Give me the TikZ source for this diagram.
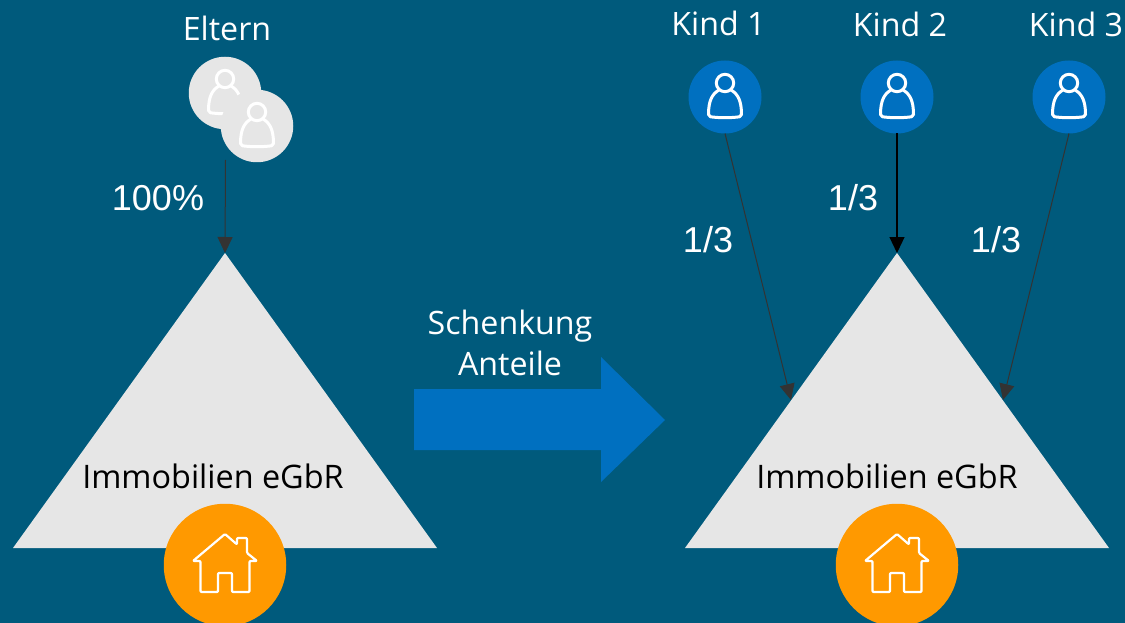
\documentclass[tikz,border=0pt]{standalone}
\usepackage{fontspec}
\setmainfont{Open Sans}
\newfontfamily\arialf{Liberation Sans}
\usetikzlibrary{shapes.geometric,arrows.meta}
\definecolor{bgblue}{HTML}{005A7C}
\definecolor{kindblue}{HTML}{0070C0}
\definecolor{houseorange}{HTML}{FF9900}
\definecolor{lightgrey}{HTML}{E6E6E6}
\definecolor{darkline}{HTML}{333333}
\tikzset{
  x=1pt,y=-1pt,
  tri/.style={shape=isosceles triangle,shape border rotate=90,isosceles triangle stretches,
    minimum width=424pt,minimum height=295pt,inner sep=0pt,outer sep=0pt,fill=lightgrey,anchor=apex},
  disc/.style={circle,inner sep=0pt,outer sep=0pt,minimum size=#1},
  greydisc/.style={disc=72.5pt,fill=lightgrey},
  kinddisc/.style={disc=73pt,fill=kindblue},
  housedisc/.style={disc=122.5pt,fill=houseorange},
  lab/.style={text=white,anchor=base,inner sep=0pt,font=\fontsize{32.2}{36}\selectfont},
  numlab/.style={text=white,anchor=base,inner sep=0pt,font=\arialf\fontsize{36}{40}\selectfont},
  inlab/.style={text=black,anchor=base,inner sep=0pt,font=\fontsize{32.4}{36}\selectfont},
  conn/.style={line width=1pt,darkline,-{Triangle[width=15pt,length=16pt]}},
  connblack/.style={line width=1.2pt,black,-{Triangle[width=15pt,length=16pt]}},
  iconline/.style={draw=white,line width=3pt,line join=round,line cap=round},
  houseline/.style={draw=white,line width=2.2pt,line join=round,line cap=round},
  person/.pic={
    \draw[iconline] (0,-14) circle[radius=8.7pt];
    \draw[iconline,rounded corners=2pt] (-6,-7) .. controls (-13,-3) and (-16.5,4) .. (-16.5,19.5)
       .. controls (-6,21) and (6,21) .. (16.5,19.5)
       .. controls (16.5,4) and (13,-3) .. (6,-7);
  },
  house/.pic={
    \draw[houseline,rounded corners=1pt] (-7,27) -- (-7,8) -- (7,8) -- (7,27) -- (24.5,27) -- (24.5,-4) -- (32,-4)
      -- (22,-12) -- (22,-27) -- (12,-27) -- (12,-20.5) -- (0,-31) -- (-32,-4) -- (-24.5,-4) -- (-24.5,27) -- cycle;
  }
}
\begin{document}
\begin{tikzpicture}
\useasboundingbox (0,0) rectangle (1125,623);
\fill[bgblue] (0,0) rectangle (1125,623);

% left side
\node[tri] (triL) at (225,253) {};
\node[housedisc] (houseL) at (225,565) {};
\pic at (houseL.center) {house};
\node[greydisc] (par1) at (225,93) {};
\pic at (par1.center) {person};
\node[greydisc] (par2) at (257,126) {};
\pic at (par2.center) {person};
\node[lab] (eltern) at (227,41) {Eltern};
\node[numlab] (pct) at (158,211) {100\%};
\node[inlab] (immoL) at (213,488) {Immobilien eGbR};
\coordinate (parOut) at (225.5,160);
\draw[conn] (parOut) -- (triL.apex);

% arrow
\fill[kindblue] (414,389) -- (601,389) -- (601,357) -- (665,420) -- (601,482) -- (601,450) -- (414,450) -- cycle;
\node[lab] (schenk) at (510,334) {Schenkung};
\node[lab] (anteile) at (510,375) {Anteile};

% right side
\node[tri] (triR) at (897,253) {};
\node[housedisc] (houseR) at (897,565) {};
\pic at (houseR.center) {house};
\node[inlab] (immoR) at (887,488) {Immobilien eGbR};
\node[kinddisc] (k1) at (725,97) {};
\node[kinddisc] (k2) at (897,97) {};
\node[kinddisc] (k3) at (1069,97) {};
\pic at (k1.center) {person};
\pic at (k2.center) {person};
\pic at (k3.center) {person};
\node[lab] (l1) at (718.5,35.5) {Kind 1};
\node[lab] (l2) at (900,36.5) {Kind 2};
\node[lab] (l3) at (1076,36.5) {Kind 3};
\node[numlab] (f1) at (708,252) {1/3};
\node[numlab] (f2) at (853,210) {1/3};
\node[numlab] (f3) at (996,252) {1/3};
\coordinate (hitL) at (791,400);
\coordinate (hitR) at (1003,400);
\draw[conn] (k1.south) -- (hitL);
\draw[connblack] (k2.south) -- (triR.apex);
\draw[conn] (k3.south) -- (hitR);
\end{tikzpicture}
\end{document}
